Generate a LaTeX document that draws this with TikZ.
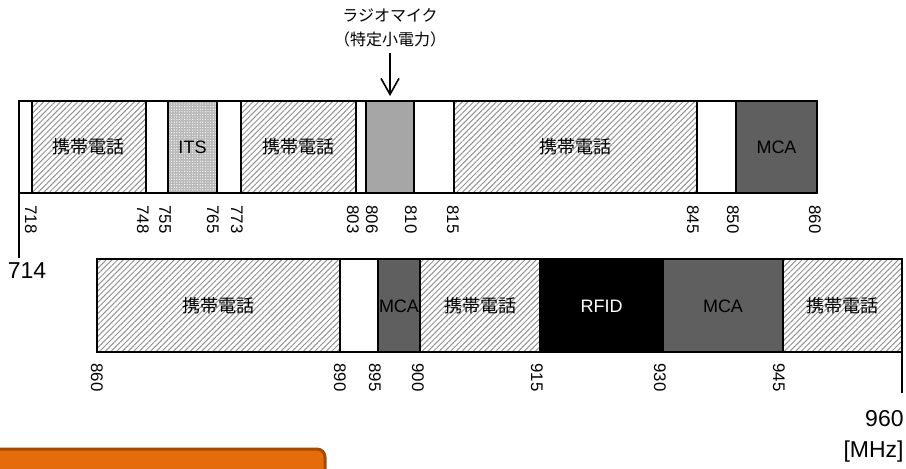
\documentclass[tikz,border=0pt]{standalone}
\usepackage{fontspec}
\setmainfont{Liberation Sans}
\newfontfamily\jpfont{Noto Sans CJK JP}
\usetikzlibrary{patterns.meta}
\usetikzlibrary{arrows.meta}

\definecolor{mcagray}{HTML}{5F5F5F}
\definecolor{micgray}{HTML}{A6A6A6}
\definecolor{boxorange}{HTML}{E46C0A}
\definecolor{boxedge}{HTML}{A24A06}

\begin{document}
\begin{tikzpicture}[x=0.5pt, y=-0.5pt,
  band/.style={draw=black, line width=1pt},
  empty/.style={band, fill=white},
  phone/.style={band, pattern={Lines[angle=45, distance=2pt, line width=0.5pt]}, pattern color=gray!85},
  its/.style={band, preaction={fill=gray!55}, pattern={Dots[distance=1.3pt, radius=0.3pt]}, pattern color=white},
  mic/.style={band, fill=micgray},
  mca/.style={band, fill=mcagray},
  rfid/.style={band, fill=black},
  jp/.style={font=\jpfont\fontsize{9pt}{10pt}\selectfont, inner sep=0pt},
  lbl/.style={font=\fontsize{9pt}{10pt}\selectfont, inner sep=0pt},
  tick/.style={font=\fontsize{8.4pt}{9pt}\selectfont, rotate=-90, anchor=west, inner sep=0pt},
  big/.style={font=\fontsize{11.5pt}{15.5pt}\selectfont, inner sep=0pt}
]
% Set the size of the figure
\useasboundingbox (0,0) rectangle (906,468);

% Upper band 714 - 860
\draw[empty] (19,101) rectangle (32,193);
\draw[phone] (32,101) rectangle (146,193);
\draw[empty] (146,101) rectangle (168,193);
\draw[its] (168,101) rectangle (217,193);
\draw[empty] (217,101) rectangle (241,193);
\draw[phone] (241,101) rectangle (356,193);
\draw[empty] (356,101) rectangle (366,193);
\draw[mic] (366,101) rectangle (414,193);
\draw[empty] (414,101) rectangle (454,193);
\draw[phone] (454,101) rectangle (697,193);
\draw[empty] (697,101) rectangle (736,193);
\draw[mca] (736,101) rectangle (817,193);

\node[jp] (phoneA) at (89,147) {携帯電話};
\node[lbl] (its) at (192.5,147) {ITS};
\node[jp] (phoneB) at (298.5,147) {携帯電話};
\node[jp] (phoneC) at (575.5,147) {携帯電話};
\node[lbl] (mcaA) at (776.5,147) {MCA};

% Lower band 860 - 960
\draw[phone] (97,259) rectangle (340,352);
\draw[empty] (340,259) rectangle (378,352);
\draw[mca] (378,259) rectangle (420,352);
\draw[phone] (420,259) rectangle (540,352);
\draw[rfid] (540,259) rectangle (663,352);
\draw[mca] (663,259) rectangle (783,352);
\draw[phone] (783,259) rectangle (902,352);

\node[jp] (phoneD) at (218.5,306) {携帯電話};
\node[lbl] (mcaB) at (399,306) {MCA};
\node[jp] (phoneE) at (480,306) {携帯電話};
\node[lbl, text=white] (rfid) at (601.5,306) {RFID};
\node[lbl] (mcaC) at (723,306) {MCA};
\node[jp] (phoneF) at (842.5,306) {携帯電話};

% Frequency ticks
\node[tick] (t718) at (31,205) {718};
\node[tick] (t748) at (143,205) {748};
\node[tick] (t755) at (165,205) {755};
\node[tick] (t765) at (213,205) {765};
\node[tick] (t773) at (237,205) {773};
\node[tick] (t803) at (353,205) {803};
\node[tick] (t806) at (372,205) {806};
\node[tick] (t810) at (411,205) {810};
\node[tick] (t815) at (453,205) {815};
\node[tick] (t845) at (693,205) {845};
\node[tick] (t850) at (733,205) {850};
\node[tick] (t860) at (815,205) {860};

\node[tick] (b860) at (97,363) {860};
\node[tick] (b890) at (340,363) {890};
\node[tick] (b895) at (375,363) {895};
\node[tick] (b900) at (418,363) {900};
\node[tick] (b915) at (537,363) {915};
\node[tick] (b930) at (660,363) {930};
\node[tick] (b945) at (779,363) {945};

% Band ends
\coordinate (lowA) at (19,193);
\coordinate (lowB) at (19,258);
\draw[line width=1pt] (lowA) -- (lowB);
\node[big] (f714) at (27,271) {714};
\coordinate (highA) at (902,352);
\coordinate (highB) at (902,393);
\draw[line width=1pt] (highA) -- (highB);
\node[big, anchor=north east, align=right] (f960) at (904,410) {960\\{[MHz]}};

% Radio microphone
\node[font=\jpfont\fontsize{8pt}{12pt}\selectfont, align=center, inner sep=0pt] (micname) at (390,28) {ラジオマイク\\（特定小電力）};
\coordinate (micband) at (390,96);
\draw[line width=0.8pt, -{Straight Barb[length=8pt, width=9pt, line width=0.8pt]}] (390,53) -- (micband);

% Box at the foot
\draw[boxedge, fill=boxorange, line width=1.5pt, rounded corners=4pt] (-10,449) rectangle (325,490);
\end{tikzpicture}
\end{document}
